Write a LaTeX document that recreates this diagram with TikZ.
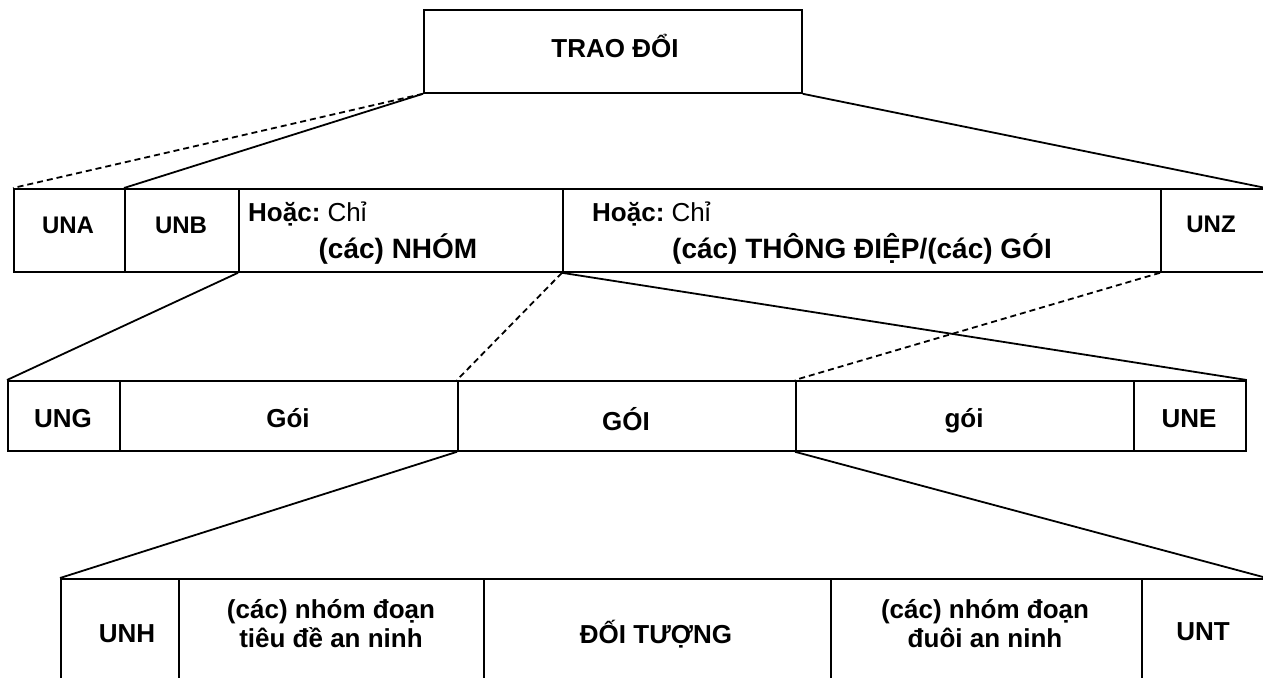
\documentclass[tikz,border=0pt]{standalone}
\usepackage{fontspec}
\setmainfont{Liberation Sans}
\begin{document}
\frenchspacing
\begin{tikzpicture}[x=1pt,y=-1pt,
  cell/.style={draw,line width=1.8pt,inner sep=0pt,anchor=north west},
  lbl/.style={font=\fontsize{26}{30}\selectfont\bfseries,anchor=base,inner sep=0pt},
  big/.style={lbl,font=\fontsize{28}{32}\selectfont\bfseries},
  sml/.style={lbl,font=\fontsize{24}{28}\selectfont\bfseries},
  sm/.style={font=\fontsize{26}{30}\selectfont,anchor=base west,inner sep=0pt},
  con/.style={line width=1.8pt},
  dsh/.style={line width=1.8pt,dash pattern=on 6pt off 4pt}]
\useasboundingbox (0,0) rectangle (1263,677);
\begin{scope}
\clip (0,0) rectangle (1263,677);
% top
\node[cell,minimum width=378pt,minimum height=83pt] (top) at (423,9) {};
\node[lbl] (tt) at (615,57) {TRAO ĐỔI};
% row 1
\node[cell,minimum width=111pt,minimum height=83pt] (una) at (13,188) {};
\node[cell,minimum width=114pt,minimum height=83pt] (unb) at (124,188) {};
\node[cell,minimum width=324pt,minimum height=83pt] (nhom) at (238,188) {};
\node[cell,minimum width=598pt,minimum height=83pt] (thong) at (562,188) {};
\node[cell,minimum width=104pt,minimum height=83pt] (unz) at (1160,188) {};
\node[sml] at (68,233) {UNA};
\node[sml] at (181,233) {UNB};
\node[sm] at (248,221) {\textbf{Hoặc:} Chỉ};
\node[big] at (398,258) {(các) NHÓM};
\node[sm] at (592,221) {\textbf{Hoặc:} Chỉ};
\node[big] at (862,258) {(các) THÔNG ĐIỆP/(các) GÓI};
\node[sml] at (1211,232) {UNZ};
% row 2
\node[cell,minimum width=112pt,minimum height=70pt] (ung) at (7,380) {};
\node[cell,minimum width=338pt,minimum height=70pt] (goi1) at (119,380) {};
\node[cell,minimum width=338pt,minimum height=70pt] (goi2) at (457,380) {};
\node[cell,minimum width=338pt,minimum height=70pt] (goi3) at (795,380) {};
\node[cell,minimum width=112pt,minimum height=70pt] (une) at (1133,380) {};
\node[lbl] at (63,427) {UNG};
\node[lbl] at (288,427) {Gói};
\node[lbl] at (626,430) {GÓI};
\node[lbl] at (964,427) {gói};
\node[lbl] at (1189,427) {UNE};
% row 3
\node[cell,minimum width=118pt,minimum height=150pt] (unh) at (60,578) {};
\node[cell,minimum width=305pt,minimum height=150pt] (hdr) at (178,578) {};
\node[cell,minimum width=347pt,minimum height=150pt] (obj) at (483,578) {};
\node[cell,minimum width=311pt,minimum height=150pt] (trl) at (830,578) {};
\node[cell,minimum width=124pt,minimum height=150pt] (unt) at (1141,578) {};
\node[lbl] at (127,642) {UNH};
\node[lbl] at (331,618) {(các) nhóm đoạn};
\node[lbl] at (331,647) {tiêu đề an ninh};
\node[lbl] at (656,643) {ĐỐI TƯỢNG};
\node[lbl] at (985,618) {(các) nhóm đoạn};
\node[lbl] at (985,647) {đuôi an ninh};
\node[lbl] at (1203,640) {UNT};
% connectors
\draw[dsh] (top.south west) -- (una.north west);
\draw[con] (top.south west) -- (unb.north west);
\draw[con] (top.south east) -- (unz.north east);
\draw[con] (nhom.south west) -- (ung.north west);
\draw[dsh] (thong.south west) -- (goi2.north west);
\draw[con] (thong.south west) -- (une.north east);
\draw[dsh] (unz.south west) -- (goi3.north west);
\draw[con] (goi2.south west) -- (unh.north west);
\draw[con] (goi3.south west) -- (unt.north east);
\end{scope}
\end{tikzpicture}
\end{document}
